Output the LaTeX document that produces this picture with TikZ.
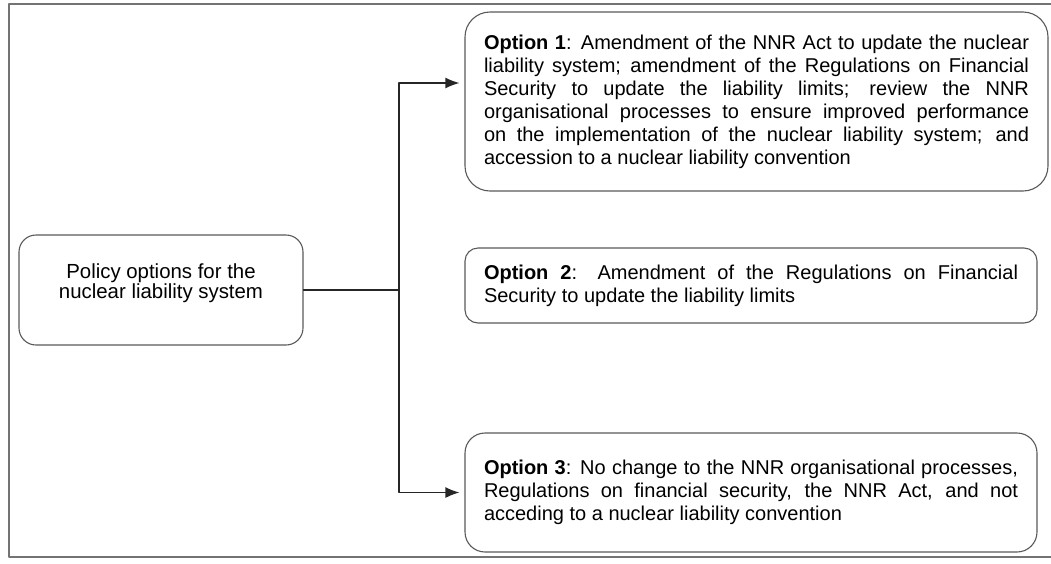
\documentclass[tikz,border=0pt]{standalone}
\usepackage{fontspec}
\setmainfont{Liberation Sans}
\usetikzlibrary{arrows.meta}

\begin{document}
\begin{tikzpicture}[x=1pt, y=-1pt, line join = round, line cap = round]
    \tikzset{
        optbox/.style={draw=black!65, line width=1.1pt, rounded corners=#1,
            inner sep=0pt, align=justify, font=\fontsize{20}{23}\selectfont},
        link/.style={black!85, line width=1.4pt},
        tip/.style={-{Latex[length=14pt, width=11pt]}},
    }
    \useasboundingbox (0,0) rectangle (1051,563);

    % outer frame, open on the right
    \draw[black!55, line width=1.3pt] (1051,4) -- (9,4) -- (9,557) -- (1051,557);

    \node[optbox=17pt, align=center, font=\fontsize{20.4}{19.5}\selectfont,
        minimum width=284pt, minimum height=110pt] (policy) at (161,290)
        {Policy options for the\\nuclear liability system\\[-2pt]\rule{0pt}{8pt}};

    \node[optbox=25pt, text width=545pt, minimum width=583pt, minimum height=179pt] (opt1) at (756.5,101.5)
        {\textbf{Option 1}: Amendment of the NNR Act to update the nuclear\linebreak
         liability system; amendment of the Regulations on Financial\linebreak
         Security to update the liability limits; review the NNR\linebreak
         organisational processes to ensure improved performance\linebreak
         on the implementation of the nuclear liability system; and\linebreak
         accession to a nuclear liability convention};

    \node[optbox=13pt, text width=534pt, minimum width=572pt, minimum height=75pt] (opt2) at (751,285.5)
        {\textbf{Option 2}: Amendment of the Regulations on Financial\linebreak
         Security to update the liability limits};

    \node[optbox=20pt, text width=534pt, minimum width=572pt, minimum height=119pt] (opt3) at (751,492.5)
        {\textbf{Option 3}: No change to the NNR organisational processes,\linebreak
         Regulations on financial security, the NNR Act, and not\linebreak
         acceding to a nuclear liability convention};

    \coordinate (split) at (399,290);

    %\draw[dashed] (split) -- (opt2.west);
    \draw[link] (policy.east) -- (split);
    \draw[link, tip] (split) |- ([xshift=-5pt, yshift=18.5pt]opt1.west);
    \draw[link, tip] (split) |- ([xshift=-5pt]opt3.west);
\end{tikzpicture}
\end{document}
